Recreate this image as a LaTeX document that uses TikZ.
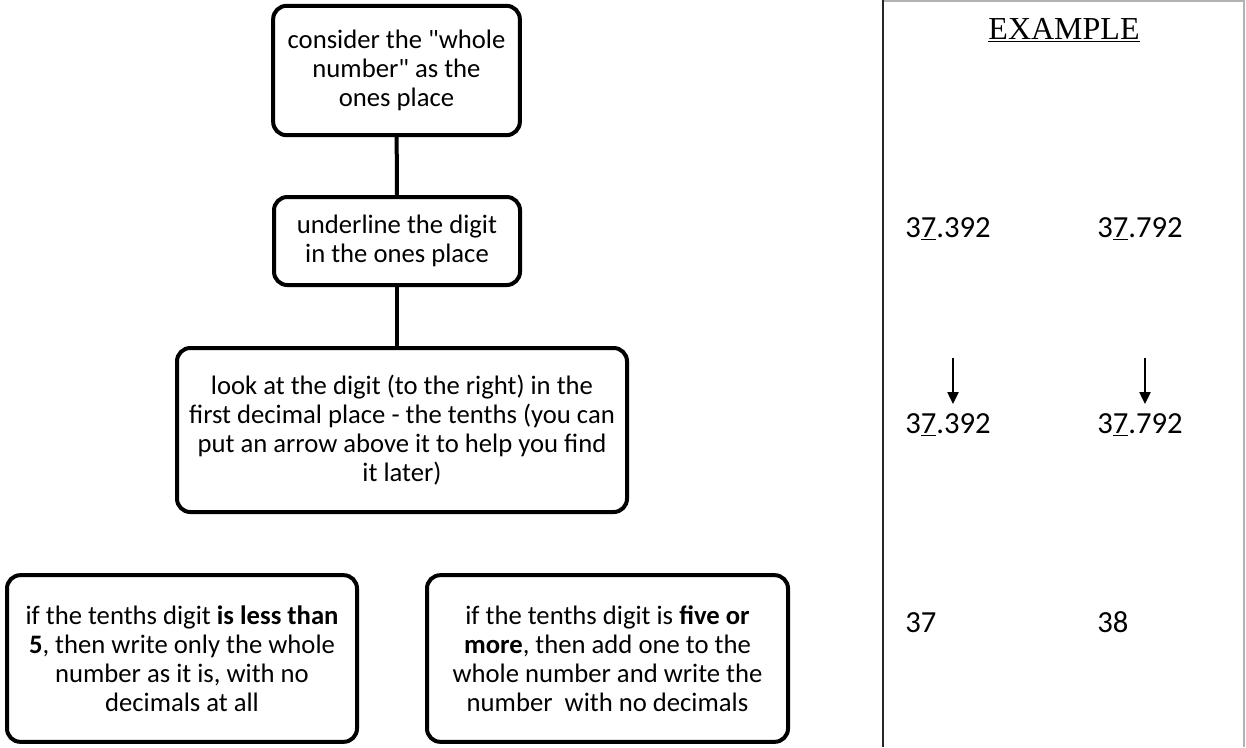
\documentclass[tikz,border=0pt]{standalone}
\usepackage{fontspec}
\setmainfont{Carlito}
\newfontfamily\timesfont{Liberation Serif}
\usepackage{tikz}
\usetikzlibrary{calc}
\usetikzlibrary{arrows.meta}
\newcommand{\onesdigit}[1]{\underline{#1}}
\newcommand{\tenthsarrow}[2]{\draw[line width=1pt, -{Triangle[width=8.5pt,length=9pt]}] (#1) -- (#2);}
\tikzset{
  stepbox/.style={draw, line width=3pt, rounded corners=10pt, align=center, inner sep=0pt,
    font=\fontsize{20}{21.75}\selectfont},
  link/.style={line width=3pt},
  numtext/.style={anchor=base west, inner sep=0pt, font=\fontsize{23}{27}\selectfont}
}

\begin{document}
\begin{tikzpicture}[x=0.75pt, y=-0.75pt]
    \useasboundingbox (0,0) rectangle (1246,747);
       % flow chart
        \node[stepbox, minimum width=185pt, minimum height=97pt] (consider) at (396.5,70.5)
            {consider the \textquotedbl whole\\ number\textquotedbl\ as the\\ ones place};
        \node[stepbox, minimum width=184.5pt, minimum height=66pt] (underline) at (397,241)
            {underline the digit\\ in the ones place};
        \node[stepbox, minimum width=337.5pt, minimum height=123pt] (look) at (402,430)
            {look at the digit (to the right) in the\\ first decimal place - the tenths (you can\\ put an arrow above it to help you find\\ it later)};
        \node[stepbox, minimum width=262.5pt, minimum height=125pt] (less) at (182,658.5)
            {if the tenths digit \textbf{is less than}\\ \textbf{5}, then write only the whole\\ number as it is, with no\\ decimals at all};
        \node[stepbox, minimum width=270.75pt, minimum height=125pt] (more) at (607.5,658.5)
            {if the tenths digit is \textbf{five or}\\ \textbf{more}, then add one to the\\ whole number and write the\\ number\ \ with no decimals};
        \draw[link] (consider) -- (underline);
        \draw[link] (underline) -- (underline |- look.north);
       % example panel
        \draw[gray!60, line width=1.5pt] (883,1) -- (1244,1) -- (1244,747);
        \draw[black!85, line width=1.5pt] (883,0) -- (883,747);
        \node[anchor=base, inner sep=0pt, font=\timesfont\fontsize{24}{28}\selectfont] (example) at (1064,39)
            {\underline{EXAMPLE}};
       % row1
        \node[numtext] (rowAleft) at (905,237) {3\onesdigit{7}.392};
        \node[numtext] (rowAright) at (1097,237) {3\onesdigit{7}.792};
       % row2
        \coordinate (tailleft) at (953,358);
        \coordinate (tipleft) at (953,404);
        \coordinate (tailright) at (1145,358);
        \coordinate (tipright) at (1145,404);
        \tenthsarrow{tailleft}{tipleft}
        \tenthsarrow{tailright}{tipright}
        \node[numtext] (rowBleft) at (905,433) {3\onesdigit{7}.392};
        \node[numtext] (rowBright) at (1097,433) {3\onesdigit{7}.792};
       % row3
        \node[numtext] (rowCleft) at (905,632) {37};
        \node[numtext] (rowCright) at (1097,632) {38};
    \end{tikzpicture}
\end{document}
